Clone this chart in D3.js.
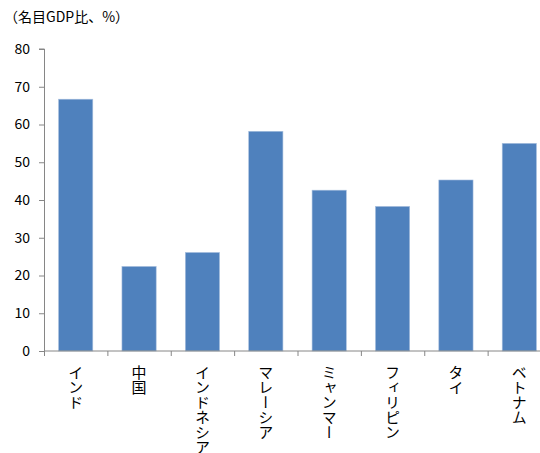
<!DOCTYPE html>
<html>
<head>
<meta charset="utf-8">
<script src="https://cdn.jsdelivr.net/npm/d3@7"></script>
<style>
  body { margin: 0; background: #fff; }
  text { font-family: "Noto Sans CJK JP", "Noto Sans", sans-serif; }
</style>
</head>
<body>
<script>
const countries = ['インド', '中国', 'インドネシア', 'マレーシア', 'ミャンマー', 'フィリピン', 'タイ', 'ベトナム'];
const values = [66.7, 22.4, 26.1, 58.2, 42.6, 38.3, 45.3, 55.0];
const yTicks = [0, 10, 20, 30, 40, 50, 60, 70, 80];
const unitLabel = '（名目GDP比、%）';

var margin = {top: 49, right: -11, bottom: 102, left: 44},
    width = 540 - margin.left - margin.right,
    height = 453 - margin.top - margin.bottom;

var svg = d3.select("body")
    .append("svg")
    .attr("width", 540)
    .attr("height", 453)
    .append("g")
    .attr("transform", "translate(" + margin.left + "," + margin.top + ")");

var x = d3.scaleBand()
    .range([0, width])
    .domain(countries)
    .paddingInner(0.46)
    .paddingOuter(0.23);

var y = d3.scaleLinear()
    .domain([0, 80])
    .range([height, 0]);

// y axis
var yAxis = svg.append("g")
    .call(d3.axisLeft(y).tickValues(yTicks).tickSize(5).tickPadding(9));
yAxis.select(".domain").attr("stroke", "#868686").attr("d", "M-5," + y(80) + "H0.5V" + height);
yAxis.selectAll(".tick line").attr("stroke", "#868686");
yAxis.selectAll("text").style("font-size", "14px").attr("fill", "#000");

// bars
svg.selectAll("rect.bar")
    .data(values)
    .enter()
    .append("rect")
    .attr("class", "bar")
    .attr("x", function(d, i) { return x(countries[i]); })
    .attr("y", function(d) { return y(d); })
    .attr("width", x.bandwidth())
    .attr("height", function(d) { return height - y(d); })
    .attr("fill", "#4f81bd")
    .attr("stroke", "#a7bfde")
    .attr("stroke-width", 0.6);

// x axis with boundary ticks
var xg = svg.append("g").attr("transform", "translate(0," + height + ")");
xg.append("line")
    .attr("x1", 0).attr("x2", width)
    .attr("stroke", "#868686");
var step = x.step();
xg.selectAll("line.tk")
    .data(d3.range(countries.length + 1))
    .enter()
    .append("line")
    .attr("class", "tk")
    .attr("x1", function(i) { return i * step + 0.5; })
    .attr("x2", function(i) { return i * step + 0.5; })
    .attr("y1", 0).attr("y2", 5)
    .attr("stroke", "#868686");

xg.selectAll("text")
    .data(countries)
    .enter()
    .append("text")
    .attr("x", function(d) { return x(d) + x.bandwidth() / 2; })
    .attr("y", 14)
    .style("writing-mode", "vertical-rl")
    .style("text-orientation", "upright")
    .style("font-size", "15px")
    .attr("text-anchor", "start")
    .text(function(d) { return d; });

svg.append("text")
    .attr("x", -40)
    .attr("y", -27)
    .style("font-size", "14px")
    .text(unitLabel);
</script>
</body>
</html>
